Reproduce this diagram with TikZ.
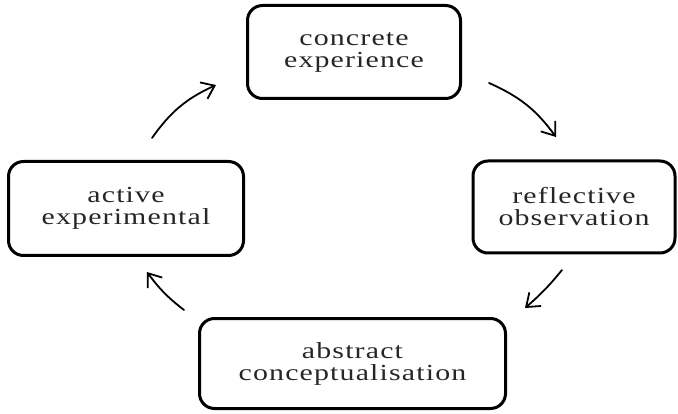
\documentclass[tikz,border=0pt]{standalone}
\usepackage{fontspec}
\usepackage{tikz}
\usetikzlibrary{arrows.meta}
\newfontfamily\boxfont[FakeStretch=1.3,LetterSpace=5]{Liberation Serif}

\tikzset{
  stagebox/.style={draw=black,line width=3pt,rounded corners=15pt,align=center,
    font=\boxfont\fontsize{23}{22}\selectfont,text=black!85},
  cyclearrow/.style={->,line width=1.8pt,line cap=round}
}

\begin{document}
\begin{tikzpicture}[line cap=round,line join=round,>={Straight Barb[length=12pt,width=18pt]},x=1pt,y=1pt]
\useasboundingbox (0,0) rectangle (678,413);
% the four stages
\node[stagebox,minimum width=213pt,minimum height=93pt] (conc) at (354,361) {concrete\\experience};
\node[stagebox,minimum width=202pt,minimum height=92pt] (refl) at (574,206) {reflective\\observation};
\node[stagebox,minimum width=306pt,minimum height=90pt] (abst) at (352.5,49.5) {abstract\\conceptualisation};
\node[stagebox,minimum width=235pt,minimum height=94pt] (actv) at (126,204.5) {active\\experimental};
% ends of the arrows
\coordinate (ac1) at (152,275);
\coordinate (ac2) at (216,328);
\coordinate (cr1) at (489,330);
\coordinate (cr2) at (556,276);
\coordinate (ra1) at (562,143);
\coordinate (ra2) at (525,105);
\coordinate (aa1) at (184,103);
\coordinate (aa2) at (147,141);
\draw[cyclearrow] (ac1) to[bend left=15] (ac2);
\draw[cyclearrow] (cr1) to[bend left=15] (cr2);
\draw[cyclearrow] (ra1) to[bend left=5] (ra2);
\draw[cyclearrow] (aa1) to[bend left=8] (aa2);
\end{tikzpicture}
\end{document}
